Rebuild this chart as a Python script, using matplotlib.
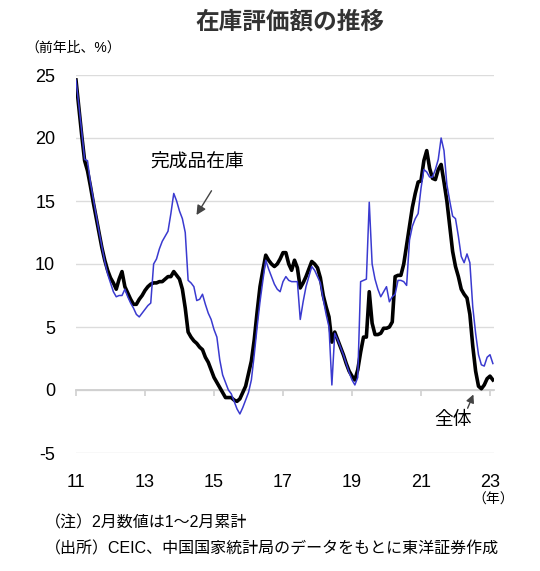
import matplotlib
matplotlib.use('Agg')
import matplotlib.pyplot as plt
import numpy as np

plt.rcParams['font.family'] = ['Liberation Sans', 'Noto Sans CJK JP']
plt.rcParams['axes.unicode_minus'] = False

# monthly y/y %, Jan 2011 .. Feb 2023
total = [
    24.6, 22.4, 20.2, 18.2, 17.4, 16.2, 14.9, 13.7, 12.5, 11.3, 10.3, 9.5,
    8.9, 8.5, 8.0, 8.8, 9.4, 8.2, 7.7, 7.2, 6.8, 6.8, 7.2, 7.5,
    7.9, 8.2, 8.4, 8.5, 8.5, 8.6, 8.6, 8.8, 9.0, 9.0, 9.4, 9.1,
    8.8, 8.0, 6.5, 4.6, 4.2, 3.9, 3.7, 3.4, 3.2, 2.6, 2.2, 1.6,
    1.0, 0.6, 0.2, -0.2, -0.6, -0.6, -0.6, -0.8, -0.9, -0.7, -0.2, 0.3,
    1.3, 2.3, 4.0, 6.2, 8.2, 9.5, 10.7, 10.3, 10.0, 9.8, 10.0, 10.4,
    10.9, 10.9, 10.0, 9.5, 10.3, 9.7, 8.1, 8.5, 9.0, 9.6, 10.2, 10.0,
    9.7, 8.9, 7.5, 6.6, 5.8, 3.8, 4.6, 4.0, 3.4, 2.8, 2.1, 1.5,
    1.1, 0.8, 1.6, 3.0, 4.2, 4.2, 7.8, 5.3, 4.4, 4.4, 4.5, 4.9,
    4.9, 5.0, 5.4, 9.0, 9.1, 9.1, 10.0, 11.5, 13.0, 14.5, 15.6, 16.5,
    16.6, 18.2, 19.0, 17.6, 16.8, 16.7, 17.5, 17.9, 16.5, 15.0, 13.0, 11.0,
    9.8, 9.0, 8.0, 7.6, 7.3, 6.0, 3.5, 1.5, 0.3, 0.1, 0.4, 0.9,
    1.1, 0.8,
]
finished = [
    24.6, 22.6, 20.5, 18.3, 18.2, 16.5, 15.2, 13.9, 12.6, 11.4, 10.2, 9.2,
    8.5, 7.8, 7.4, 7.5, 7.5, 8.0, 7.4, 6.9, 6.5, 6.0, 5.8, 6.1,
    6.4, 6.7, 6.9, 10.0, 10.4, 11.2, 11.8, 12.2, 12.6, 14.0, 15.6, 15.0,
    14.2, 13.6, 12.5, 8.7, 8.5, 8.2, 7.1, 7.2, 7.6, 6.8, 6.1, 5.6,
    4.8, 4.2, 2.4, 1.2, 0.6, 0.0, -0.3, -0.9, -1.5, -1.9, -1.4, -0.8,
    -0.2, 0.8, 2.8, 5.0, 7.0, 8.7, 10.3, 9.6, 9.0, 8.4, 8.0, 7.8,
    8.6, 9.0, 8.7, 8.6, 8.6, 8.6, 5.6, 7.0, 8.2, 9.0, 9.8, 9.5,
    9.0, 8.5, 7.2, 6.0, 5.0, 0.4, 4.5, 4.0, 3.4, 2.8, 2.1, 1.4,
    0.8, 0.4, 1.0, 8.6, 8.7, 8.8, 14.9, 10.0, 8.8, 8.0, 7.4, 7.8,
    8.2, 7.0, 7.4, 7.6, 8.7, 8.7, 8.6, 8.3, 11.9, 13.0, 13.6, 14.0,
    16.0, 17.5, 17.3, 16.9, 16.9, 17.5, 18.3, 20.0, 19.0, 16.3, 15.0, 13.8,
    13.6, 12.2, 10.6, 10.1, 10.8, 10.1, 6.6, 4.5, 2.8, 2.0, 1.9, 2.6,
    2.8, 2.1,
]
year_ticks = [2011, 2013, 2015, 2017, 2019, 2021, 2023]
year_labels = ['11', '13', '15', '17', '19', '21', '23']

t = 2011 + np.arange(len(total)) / 12

fig = plt.figure(figsize=(5.4, 5.71), dpi=100)
ax = fig.add_axes([76 / 540, 118 / 571, 418 / 540, 378 / 571])

ax.plot(t, total, color='black', lw=2.6, solid_joinstyle='round', zorder=3)
ax.plot(t, finished, color='#3a3ad0', lw=1.1, zorder=4)

ax.set_xlim(2011, 2023.116)
ax.set_ylim(-5, 25)
ax.set_yticks(range(-5, 26, 5))
ax.yaxis.grid(True, color='#dcdcdc', lw=1)
ax.set_axisbelow(True)
for s in ['top', 'right', 'left']:
    ax.spines[s].set_visible(False)
ax.spines['bottom'].set_position(('data', 0))
ax.spines['bottom'].set_color('#cfcfcf')
ax.spines['bottom'].set_linewidth(1.3)
ax.tick_params(axis='y', length=0, pad=15, labelsize=13)
ax.set_xticks(year_ticks)
ax.tick_params(axis='x', length=4, width=1.2, color='#cfcfcf', direction='out',
               labelbottom=False)

sec = ax.secondary_xaxis('bottom')
sec.set_xticks(year_ticks, year_labels)
sec.tick_params(length=0, pad=15, labelsize=13)
sec.spines['bottom'].set_visible(False)

# labels and arrows
ax.text(2014.51, 18.1, '完成品在庫', ha='center', va='center', fontsize=13.5)
ax.annotate('', xy=(2014.45, 13.7), xytext=(2014.97, 16.0),
            arrowprops=dict(arrowstyle='-|>', color='#444444', lw=1,
                            mutation_scale=14))
ax.text(2021.92, -2.45, '全体', ha='center', va='center', fontsize=13.5)
ax.annotate('', xy=(2022.55, -0.15), xytext=(2022.32, -1.65),
            arrowprops=dict(arrowstyle='-|>', color='#444444', lw=1,
                            mutation_scale=12))

fig.text(290 / 540, 1 - 22 / 571, '在庫評価額の推移', ha='center', va='center',
         fontsize=17, fontweight='bold', color='#333333')
fig.text(25 / 540, 1 - 48 / 571, '（前年比、%）', ha='left', va='center',
         fontsize=10)
fig.text(493 / 540, 1 - 500 / 571, '（年）', ha='center', va='center',
         fontsize=10)
fig.text(45 / 540, 1 - 523 / 571, '（注）2月数値は1～2月累計', ha='left',
         va='center', fontsize=11.5)
fig.text(45 / 540, 1 - 549 / 571,
         '（出所）CEIC、中国国家統計局のデータをもとに東洋証券作成', ha='left',
         va='center', fontsize=11.5)

fig.savefig('out.png', dpi=100)
